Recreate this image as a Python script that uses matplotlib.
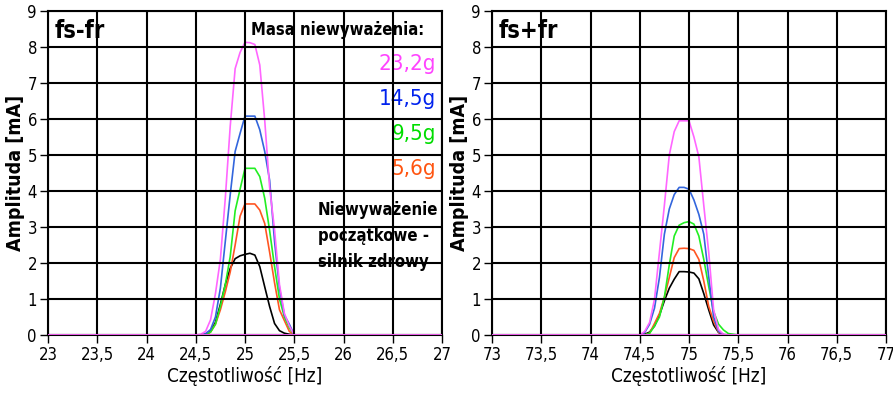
import matplotlib
matplotlib.use("Agg")
import matplotlib.pyplot as plt
from matplotlib.ticker import FuncFormatter

plt.rcParams['font.family'] = ['DejaVu Sans']
plt.rcParams['font.stretch'] = 'condensed'

# --- data ---
freq_left = [23.0, 24.50, 24.55, 24.60, 24.65, 24.70, 24.75, 24.80, 24.85, 24.90, 24.95,
             25.00, 25.05, 25.10, 25.15, 25.20, 25.25, 25.30, 25.35, 25.40, 25.45, 25.50, 27.0]
left_232 = [0, 0, 0.02, 0.10, 0.42, 1.15, 2.10, 3.80, 5.80, 7.40, 7.85,
            8.13, 8.12, 8.07, 7.50, 5.97, 4.10, 2.92, 1.40, 0.60, 0.25, 0, 0]
left_145 = [0, 0, 0, 0.04, 0.15, 0.50, 1.30, 2.60, 3.90, 5.10, 5.60,
            6.08, 6.08, 6.08, 5.70, 5.10, 4.30, 2.60, 1.30, 0.55, 0.30, 0, 0]
left_95 = [0, 0, 0, 0.02, 0.08, 0.30, 0.80, 1.40, 2.18, 3.45, 4.05,
           4.63, 4.63, 4.63, 4.40, 3.80, 2.90, 1.90, 1.00, 0.50, 0.20, 0, 0]
left_56 = [0, 0, 0, 0, 0.08, 0.30, 0.70, 1.20, 1.75, 2.50, 3.30,
           3.64, 3.64, 3.64, 3.47, 3.10, 2.30, 1.45, 0.70, 0.40, 0.10, 0, 0]
left_base = [0, 0, 0, 0, 0.10, 0.35, 0.85, 1.40, 1.85, 2.12, 2.20,
             2.24, 2.27, 2.22, 1.90, 1.34, 0.79, 0.32, 0.12, 0.05, 0.02, 0, 0]

freq_right = [73.0, 74.50, 74.55, 74.60, 74.65, 74.70, 74.75, 74.80, 74.85, 74.90, 74.95,
              75.00, 75.05, 75.10, 75.15, 75.20, 75.25, 75.30, 75.35, 75.40, 75.45, 75.50, 77.0]
right_232 = [0, 0, 0.10, 0.35, 1.00, 2.30, 3.60, 5.00, 5.65, 5.95, 5.95,
             5.95, 5.50, 4.95, 3.60, 2.30, 0.70, 0.15, 0.02, 0, 0, 0, 0]
right_145 = [0, 0, 0.07, 0.30, 0.75, 1.60, 2.80, 3.50, 3.90, 4.10, 4.10,
             4.05, 3.75, 3.35, 2.80, 1.62, 0.50, 0.10, 0.01, 0, 0, 0, 0]
right_95 = [0, 0, 0, 0.05, 0.25, 0.50, 1.05, 1.95, 2.75, 3.05, 3.12,
            3.15, 3.08, 2.75, 2.10, 1.35, 0.65, 0.30, 0.14, 0.04, 0.02, 0, 0]
right_56 = [0, 0, 0, 0.05, 0.32, 0.60, 1.05, 1.60, 2.15, 2.40, 2.41,
            2.40, 2.35, 2.10, 1.50, 0.80, 0.38, 0.08, 0, 0, 0, 0, 0]
right_base = [0, 0, 0.02, 0.08, 0.25, 0.55, 0.95, 1.30, 1.55, 1.76, 1.76,
              1.75, 1.72, 1.56, 1.15, 0.70, 0.28, 0.07, 0, 0, 0, 0, 0]

mass_labels = ['23,2g', '14,5g', '9,5g', '5,6g']
line_colors = ['#ff66ff', '#3366dd', '#22ee22', '#ff5522', '#000000']
text_colors = ['#ff44ff', '#0022ee', '#00dd00', '#ff5511']

fig = plt.figure(figsize=(8.93, 3.97), dpi=100)
ax_l = fig.add_axes([48 / 893, 62 / 397, 394 / 893, 324 / 397])
ax_r = fig.add_axes([492 / 893, 62 / 397, 394 / 893, 324 / 397])

comma = FuncFormatter(lambda v, p: ('%g' % v).replace('.', ','))


def setup(ax, x0, title):
    ax.set_xlim(x0, x0 + 4)
    ax.set_ylim(0, 9)
    ax.set_xticks([x0 + 0.5 * i for i in range(9)])
    ax.set_yticks(range(10))
    ax.xaxis.set_major_formatter(comma)
    ax.set_axisbelow(False)
    ax.grid(True, color='black', linewidth=1.5)
    for s in ax.spines.values():
        s.set_linewidth(1.5)
    ax.tick_params(length=6, width=1, labelsize=12, pad=2)
    ax.set_xlabel('Częstotliwość [Hz]', fontsize=13.5, labelpad=1)
    ax.set_ylabel('Amplituda [mA]', fontsize=14, fontweight='bold', labelpad=2)
    ax.text(0.018, 0.975, title, transform=ax.transAxes, fontsize=17,
            fontweight='bold', va='top', ha='left', zorder=1)


setup(ax_l, 23, 'fs-fr')
setup(ax_r, 73, 'fs+fr')

left_series = [left_232, left_145, left_95, left_56, left_base]
right_series = [right_232, right_145, right_95, right_56, right_base]
for i in range(4, -1, -1):
    ax_l.plot(freq_left, left_series[i], color=line_colors[i], linewidth=1.2, zorder=2)
    ax_r.plot(freq_right, right_series[i], color=line_colors[i], linewidth=1.2, zorder=2)
# pink baseline drawn a bit heavier, as in the original
ax_l.plot([23, 27], [0, 0], color=line_colors[0], linewidth=2, zorder=3)
ax_r.plot([73, 77], [0, 0], color=line_colors[0], linewidth=2, zorder=3)

ax_l.text(0.955, 0.97, 'Masa niewyważenia:', transform=ax_l.transAxes, fontsize=12,
          fontweight='bold', ha='right', va='top', zorder=1)
for k, (lab, col) in enumerate(zip(mass_labels, text_colors)):
    ax_l.text(0.985, 0.835 - k * 0.108, lab, transform=ax_l.transAxes, fontsize=16,
              color=col, ha='right', va='center', zorder=1)
ax_l.text(0.685, 0.415, 'Niewyważenie\npoczątkowe -\nsilnik zdrowy', transform=ax_l.transAxes,
          fontsize=12, fontweight='bold', ha='left', va='top', linespacing=1.6, zorder=1)

fig.savefig('out.png', dpi=100)
